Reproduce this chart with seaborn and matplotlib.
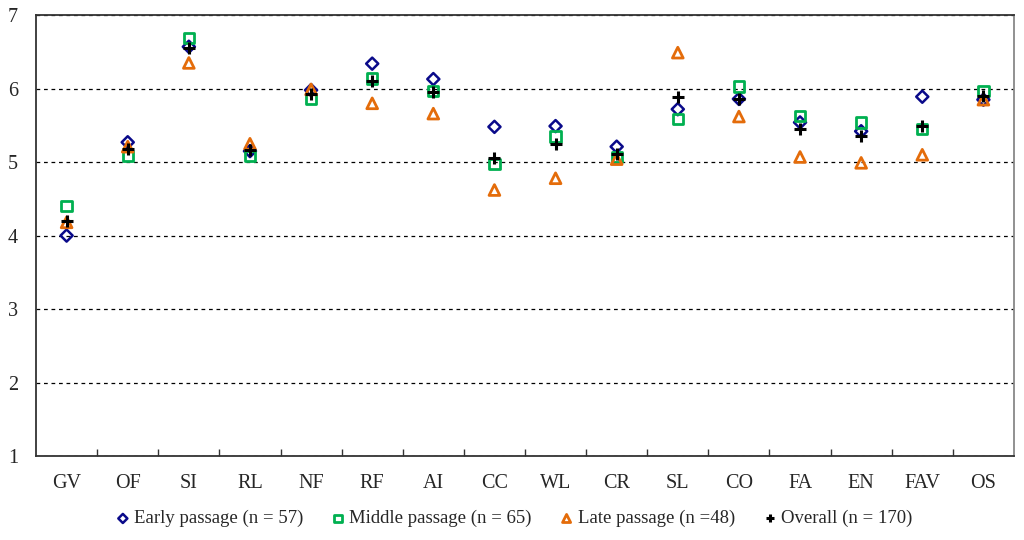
import numpy as np
import pandas as pd
import matplotlib
matplotlib.use('Agg')
import matplotlib.pyplot as plt
import seaborn as sns
from matplotlib.ticker import FixedLocator

categories = ['GV', 'OF', 'SI', 'RL', 'NF', 'RF', 'AI', 'CC', 'WL', 'CR', 'SL', 'CO', 'FA', 'EN', 'FAV', 'OS']
early = [4.00, 5.27, 6.57, 5.15, 5.98, 6.34, 6.13, 5.48, 5.49, 5.21, 5.72, 5.86, 5.54, 5.42, 5.89, 5.85]
middle = [4.40, 5.08, 6.69, 5.08, 5.86, 6.14, 5.97, 4.97, 5.35, 5.07, 5.59, 6.03, 5.63, 5.54, 5.45, 5.97]
late = [4.18, 5.21, 6.35, 5.25, 5.99, 5.80, 5.66, 4.62, 4.78, 5.04, 6.49, 5.62, 5.07, 4.99, 5.10, 5.85]
overall = [4.20, 5.18, 6.55, 5.17, 5.93, 6.11, 5.95, 5.05, 5.24, 5.11, 5.88, 5.86, 5.45, 5.36, 5.49, 5.90]

labels = ['Early passage (n = 57)', 'Middle passage (n = 65)', 'Late passage (n =48)', 'Overall (n = 170)']

sns.set_style('white')
plt.rcParams['font.family'] = ['Liberation Serif', 'DejaVu Serif']

fig = plt.figure(figsize=(10.24, 5.4), dpi=100)
ax = fig.add_axes([0.0352, 0.1556, 0.955, 0.8163])

#series drawn one by one so each gets its own hollow marker
series = [
    (early, labels[0], 'D', 38, '#0a0a8a', 1.8),
    (middle, labels[1], 's', 55, '#00b050', 2.0),
    (late, labels[2], '^', 60, '#e46c0a', 2.0),
]
for vals, lab, m, s, c, lw in series:
    sns.scatterplot(x=categories, y=vals, marker=m, s=s, facecolor='none',
                    edgecolor=c, linewidth=lw, label=lab, ax=ax, zorder=3)
sns.scatterplot(x=categories, y=overall, marker='+', s=70, color='black',
                linewidth=2.2, label=labels[3], ax=ax, zorder=4)

ax.set_xlim(-0.5, len(categories) - 0.5)
ax.set_ylim(1, 7)
ax.set_yticks(range(1, 8))
ax.set_xlabel('')
ax.set_ylabel('')

ax.yaxis.grid(True, linestyle=(0, (3, 3)), color='black', linewidth=0.9)
ax.xaxis.grid(False)
ax.set_axisbelow(True)

ax.xaxis.set_minor_locator(FixedLocator(np.arange(0.5, len(categories) - 1, 1)))
ax.tick_params(axis='x', which='major', length=0, labelsize=14.5, pad=13)
ax.tick_params(axis='x', which='minor', direction='in', length=5, width=1, color='#333333', bottom=True)
ax.tick_params(axis='y', length=0, labelsize=14.5, pad=13)

for side in ['left', 'bottom', 'top']:
    ax.spines[side].set_color('#333333')
    ax.spines[side].set_linewidth(1.3)
ax.spines['right'].set_color('#888888')
ax.spines['right'].set_linewidth(1.3)

handles, labs = ax.get_legend_handles_labels()
ax.get_legend().remove()
fig.legend(handles, labs, loc='lower center', bbox_to_anchor=(0.5, -0.008), ncol=4,
           frameon=False, fontsize=13.5, handletextpad=0.0, handlelength=1.2,
           columnspacing=1.25, markerscale=0.75)

fig.savefig('out.png', dpi=100)
